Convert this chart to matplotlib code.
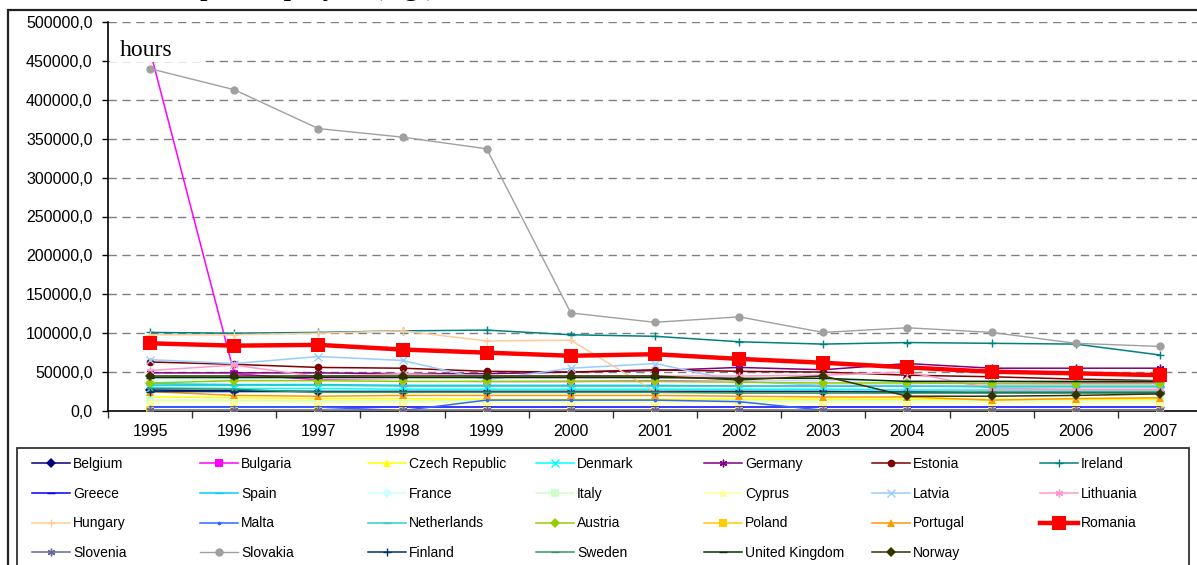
import matplotlib.pyplot as plt
from matplotlib.patches import Rectangle
from matplotlib.ticker import FuncFormatter, MultipleLocator, FixedLocator

# ----------------------------
# Data (hours)
# ----------------------------
years = ["1995", "1996", "1997", "1998", "1999", "2000", "2001",
         "2002", "2003", "2004", "2005", "2006", "2007"]

belgium     = [27000, 26000, 25000, 25000, 25000, 25000, 25000, 25000, 25000, 25000, 25000, 25000, 25000]
bulgaria    = [463000, 48000, 40000, 39000, 38000, 38000, 39000, 38000, 38000, 38000, 38000, 37000, 37000]
czech       = [18000, 17000, 16000, 16000, 15000, 15000, 15000, 15000, 15000, 15000, 15000, 15000, 15000]
denmark     = [30000, 29000, 29000, 28000, 28000, 28000, 28000, 28000, 28000, 27000, 27000, 27000, 27000]
germany     = [49000, 49000, 49000, 48000, 48000, 50000, 52000, 56000, 53000, 61000, 55000, 55000, 55000]
estonia     = [63000, 60000, 56000, 55000, 51000, 50000, 53000, 51000, 50000, 46000, 44000, 41000, 39000]
ireland     = [101000, 100000, 101000, 103000, 104000, 98000, 96000, 89000, 86000, 88000, 87000, 86000, 72000]
greece      = [5000, 5000, 5000, 5000, 5000, 5000, 5000, 5000, 5000, 5000, 5000, 5000, 5000]
spain       = [35000, 34000, 34000, 33000, 33000, 33000, 33000, 32000, 32000, 32000, 32000, 32000, 32000]
france      = [40000, 40000, 39000, 39000, 39000, 38000, 38000, 38000, 38000, 38000, 38000, 38000, 38000]
italy       = [14000, 14000, 13000, 13000, 13000, 13000, 13000, 13000, 13000, 13000, 13000, 13000, 13000]
cyprus      = [12000, 12000, 11000, 11000, 11000, 11000, 11000, 11000, 11000, 11000, 11000, 11000, 11000]
latvia      = [66000, 61000, 70000, 65000, 40000, 55000, 61000, 38000, 33000, 33000, 32000, 32000, 32000]
lithuania   = [52000, 59000, 44000, 48000, 45000, 45000, 45000, 45000, 46000, 50000, 29000, 28000, 28000]
hungary     = [98000, 98000, 100000, 103000, 90000, 91000, 25000, 25000, 24000, 24000, 25000, 25000, 25000]
malta       = [5000, 5000, 5000, 500, 14000, 14000, 14000, 12000, 1000, 1000, 1000, 1000, 1000]
netherlands = [33000, 33000, 33000, 32000, 32000, 32000, 32000, 32000, 32000, 32000, 31000, 31000, 31000]
austria     = [36000, 39000, 39000, 38000, 38000, 38000, 38000, 37000, 36000, 36000, 35000, 35000, 35000]
poland      = [500, 500, 500, 500, 500, 500, 500, 500, 500, 500, 500, 500, 500]
portugal    = [25000, 20000, 19000, 20000, 20000, 20000, 20000, 19000, 18000, 18000, 14000, 16000, 17000]
romania     = [87000, 84000, 85000, 79000, 75000, 71000, 73000, 67000, 62000, 56000, 50500, 48400, 46000]
slovenia    = [1000, 1000, 1000, 1000, 1000, 1000, 1000, 1000, 1000, 1000, 1000, 1000, 1000]
slovakia    = [440000, 413000, 363000, 352000, 337000, 126000, 114000, 121000, 101000, 107000, 101000, 87000, 83000]
finland     = [25000, 25000, 25000, 25000, 25000, 25000, 25000, 25000, 25000, 24000, 24000, 24000, 24000]
sweden      = [29000, 28000, 24000, 24000, 24000, 24000, 24000, 23000, 23000, 23000, 23000, 23000, 23000]
uk          = [43000, 43000, 43000, 43000, 43000, 43000, 43000, 42000, 42000, 38000, 38000, 38000, 38000]
norway      = [45000, 45000, 45000, 45000, 45000, 45000, 45000, 40000, 45000, 19000, 19000, 20000, 22000]

countries = ["Belgium", "Bulgaria", "Czech Republic", "Denmark", "Germany", "Estonia", "Ireland",
             "Greece", "Spain", "France", "Italy", "Cyprus", "Latvia", "Lithuania",
             "Hungary", "Malta", "Netherlands", "Austria", "Poland", "Portugal", "Romania",
             "Slovenia", "Slovakia", "Finland", "Sweden", "United Kingdom", "Norway"]
series = [belgium, bulgaria, czech, denmark, germany, estonia, ireland,
          greece, spain, france, italy, cyprus, latvia, lithuania,
          hungary, malta, netherlands, austria, poland, portugal, romania,
          slovenia, slovakia, finland, sweden, uk, norway]

# ----------------------------
# Styles (Excel default palette)
# ----------------------------
STAR = (6, 2, 0)
colors = ["#000080", "#FF00FF", "#FFFF00", "#00FFFF", "#800080", "#800000", "#008080",
          "#0000FF", "#00CCFF", "#CCFFFF", "#CCFFCC", "#FFFF99", "#99CCFF", "#FF99CC",
          "#FFCC99", "#3366FF", "#33CCCC", "#99CC00", "#FFCC00", "#FF9900", "#FF0000",
          "#666699", "#969696", "#003366", "#339966", "#003300", "#333300"]
markers = ["D", "s", "^", "x", STAR, "o", "+",
           "_", "_", "D", "s", "^", "x", STAR,
           "+", ".", "_", "D", "s", "^", "s",
           STAR, "o", "+", "_", "_", "D"]

plt.rcParams["font.family"] = ["Liberation Sans", "DejaVu Sans"]

fig = plt.figure(figsize=(11.97, 5.65), dpi=100)
W, H = 1197, 565

ax = fig.add_axes([108 / W, 1 - 411 / H, (1202 - 108) / W, (411 - 22) / H])
ax.set_facecolor("none")

x = list(range(len(years)))
lines = []
for name, vals, c, m in zip(countries, series, colors, markers):
    if name == "Romania":
        ln, = ax.plot(x, vals, color=c, marker=m, markersize=10, linewidth=3.2,
                      markeredgewidth=0, zorder=4, label=name)
    elif name == "Slovakia":
        ln, = ax.plot(x, vals, color="#a0a0a0", marker=m, markersize=6, linewidth=1.0,
                      markeredgewidth=0, zorder=3, label=name)
    else:
        mew = 1.0 if m in ("x", "+", "_", STAR) else 0
        ln, = ax.plot(x, vals, color=c, marker=m, markersize=5.5, linewidth=1.1,
                      markeredgewidth=mew, zorder=3, label=name)
    lines.append(ln)

# ----------------------------
# Axes
# ----------------------------
ax.set_xlim(-0.5, len(years) - 0.5)
ax.set_ylim(0, 500000)
ax.yaxis.set_major_locator(MultipleLocator(50000))
ax.yaxis.set_major_formatter(FuncFormatter(lambda v, p: f"{v:.1f}".replace(".", ",")))
ax.set_xticks(x)
ax.set_xticklabels(years)
ax.xaxis.set_minor_locator(FixedLocator([i - 0.5 for i in range(len(years) + 1)]))
ax.tick_params(axis="x", which="major", length=0, pad=9, labelsize=11.5)
ax.tick_params(axis="x", which="minor", length=5, width=1, color="#333333")
ax.tick_params(axis="y", length=4, width=1, pad=7, labelsize=11.5)

for s in ("top", "right"):
    ax.spines[s].set_visible(False)
ax.spines["left"].set_linewidth(1.2)
ax.spines["bottom"].set_linewidth(1.2)

for v in range(50000, 500001, 50000):
    ax.axhline(v, color="#808080", linestyle=(0, (6, 4)), linewidth=1.0, zorder=1)

# ----------------------------
# Frames, labels, legend
# ----------------------------
fig.add_artist(Rectangle((7.5 / W, -0.1), 1.1, 1 - 10 / H + 0.1, transform=fig.transFigure,
                         fill=False, edgecolor="#222222", linewidth=1.6, clip_on=False))
fig.add_artist(Rectangle((110 / W, 1 - 62 / H), 90 / W, 32 / H, transform=fig.transFigure,
                         facecolor="white", edgecolor="none", zorder=5))
fig.text(120 / W, 1 - 56 / H, "hours", family="Liberation Serif", fontsize=17,
         va="baseline", ha="left", zorder=6)
fig.text(200 / W, 1 + 6 / H, "per employee (e.g.)", family="Liberation Serif",
         fontsize=22, va="baseline", ha="left")

fig.add_artist(Rectangle((17 / W, -0.05), (1189 - 17) / W, 1 - 448 / H + 0.05,
                         transform=fig.transFigure, fill=False, edgecolor="#333333",
                         linewidth=1.3))

for col in range(7):
    handles = lines[col::7]
    fig.legend(handles=handles, labels=[h.get_label() for h in handles],
               loc="upper left", bbox_to_anchor=((32 + 168 * col) / W, 1 - 457 / H),
               frameon=False, fontsize=10, handlelength=2.7, handletextpad=0.25,
               labelspacing=1.13, borderpad=0, borderaxespad=0, numpoints=1)

plt.savefig("out.png", dpi=100)
